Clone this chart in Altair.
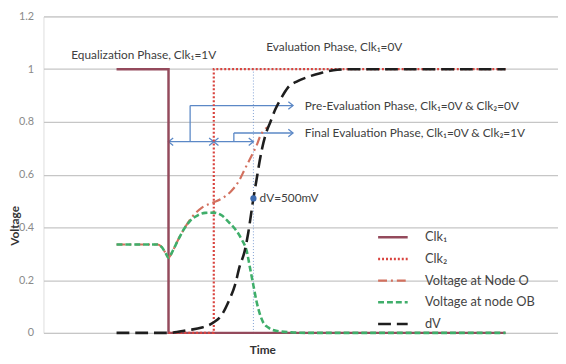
import altair as alt
import pandas as pd

# ---------------- data ----------------
series_names = ["Clk₁", "Clk₂", "Voltage at Node O", "Voltage at node OB", "dV"]
series_colors = ["#944A5C", "#D9443F", "#D2705E", "#3FAE6A", "#1E1E1E"]
series_dashes = [[1, 0], [2, 2], [9, 4, 2, 4], [6, 3], [13, 6]]

clk1_t = [1.42, 2.43, 2.43, 8.98]
clk1_v = [1, 1, 0, 0]

clk2_t = [2.43, 3.31, 3.31, 8.98]
clk2_v = [0, 0, 1, 1]

nodeo_t = [1.42, 2.22, 2.30, 2.38, 2.43, 2.51, 2.61, 2.72, 2.89, 3.08, 3.31, 3.47,
           3.66, 3.81, 3.91, 4.04, 4.14, 4.21, 4.29, 4.36]
nodeo_v = [0.335, 0.335, 0.325, 0.30, 0.285, 0.31, 0.35, 0.39, 0.44, 0.475, 0.495, 0.51,
           0.54, 0.58, 0.62, 0.67, 0.71, 0.745, 0.77, 0.78]

nodeob_t = [1.42, 2.22, 2.30, 2.38, 2.43, 2.51, 2.61, 2.72, 2.85, 2.99, 3.14, 3.31,
            3.47, 3.60, 3.72, 3.85, 3.95, 4.02, 4.08, 4.14, 4.20, 4.27, 4.37, 4.52,
            4.81, 5.10, 8.98]
nodeob_v = [0.335, 0.335, 0.325, 0.30, 0.285, 0.31, 0.35, 0.39, 0.425, 0.445, 0.455, 0.456,
            0.445, 0.42, 0.395, 0.355, 0.31, 0.24, 0.18, 0.12, 0.075, 0.04, 0.02, 0.008,
            0.002, 0.0, 0.0]

dv_t = [1.42, 2.43, 2.80, 3.08, 3.31, 3.47, 3.60, 3.72, 3.81, 3.91, 3.98, 4.08, 4.14,
        4.20, 4.25, 4.33, 4.41, 4.50, 4.62, 4.75, 4.94, 5.13, 5.38, 5.71, 6.05, 8.98]
dv_v = [0.0, 0.0, 0.01, 0.02, 0.04, 0.07, 0.12, 0.18, 0.25, 0.31, 0.38, 0.51, 0.58,
        0.65, 0.70, 0.76, 0.80, 0.845, 0.89, 0.93, 0.955, 0.97, 0.985, 0.998, 1.0, 1.0]

y_ticks = [0, 0.2, 0.4, 0.6, 0.8, 1.0, 1.2]

# annotation texts
note_text = ["Equalization Phase, Clk₁=1V", "Evaluation Phase, Clk₁=0V",
             "Pre-Evaluation Phase, Clk₁=0V & Clk₂=0V",
             "Final Evaluation Phase, Clk₁=0V & Clk₂=1V", "dV=500mV"]
note_t = [0.54, 4.33, 5.08, 5.08, 4.20]
note_v = [1.055, 1.085, 0.862, 0.758, 0.51]

# arrow / bracket segments
seg_t = [2.43, 3.31, 2.85, 2.85, 3.70, 3.70]
seg_t2 = [3.31, 4.08, 2.85, 4.85, 3.70, 4.85]
seg_v = [0.725, 0.725, 0.725, 0.862, 0.725, 0.758]
seg_v2 = [0.725, 0.725, 0.862, 0.862, 0.758, 0.758]

# arrow heads
head_t = [2.43, 3.31, 3.31, 4.08, 4.85, 4.85]
head_v = [0.725, 0.725, 0.725, 0.725, 0.862, 0.758]
head_dir = ["left", "right", "left", "right", "right", "right"]

# dV = 500 mV marker
marker_t = [4.08]
marker_v = [0.51]
marker_line_v = [0.0, 1.0]

# ---------------- build tables ----------------
series_t = [clk1_t, clk2_t, nodeo_t, nodeob_t, dv_t]
series_v = [clk1_v, clk2_v, nodeo_v, nodeob_v, dv_v]

FONT = "Lato, DejaVu Sans, sans-serif"

xscale = alt.Scale(domain=[0, 10], nice=False, zero=False)
yscale = alt.Scale(domain=[0, 1.2], nice=False)

xaxis = alt.Axis(labels=False, ticks=False, domain=False, grid=False, title="Time",
                 titleX=222, titleY=17, titleBaseline="middle", titleFont=FONT,
                 titleFontSize=12, titleFontWeight="bold", titleColor="#333333")
yaxis = alt.Axis(values=y_ticks, format="~g", grid=True, gridColor="#C6C6C6",
                 gridWidth=1.2, domain=False, ticks=False, labelPadding=10,
                 labelColor="#8A8A8A", labelFont=FONT, labelFontSize=11,
                 title="Voltage", titleX=-29, titleY=212, titleAlign="center",
                 titleBaseline="middle", titleFont=FONT, titleFontSize=12,
                 titleFontWeight="bold", titleColor="#333333")

legend = alt.Legend(title=None, orient="none", legendX=338, legendY=216,
                    symbolType="stroke", symbolSize=900, symbolStrokeWidth=2.5,
                    labelFont=FONT, labelFontSize=13, labelColor="#444444",
                    labelOffset=16, clipHeight=16, rowPadding=6)

color_scale = alt.Scale(domain=series_names, range=series_colors)
dash_scale = alt.Scale(domain=series_names, range=series_dashes)

widths = [2.5, 2.2, 2.2, 2.6, 2.6]
interps = ["linear", "linear", "monotone", "monotone", "monotone"]

layers = []
for name, ts, vs, w, ip in zip(series_names, series_t, series_v, widths, interps):
    df = pd.DataFrame({"t": ts, "v": vs, "series": name, "i": range(len(ts))})
    layers.append(
        alt.Chart(df).mark_line(strokeWidth=w, interpolate=ip).encode(
            x=alt.X("t:Q", scale=xscale, axis=xaxis),
            y=alt.Y("v:Q", scale=yscale, axis=yaxis),
            color=alt.Color("series:N", scale=color_scale, legend=legend),
            strokeDash=alt.StrokeDash("series:N", scale=dash_scale, legend=legend),
            order="i:Q",
        )
    )

BLUE = "#5B88C6"

marker_line = alt.Chart(pd.DataFrame({"t": marker_t * 2, "v": marker_line_v})).mark_line(
    color="#7F9FD3", strokeWidth=1, strokeDash=[1, 2]
).encode(x=alt.X("t:Q", scale=xscale), y=alt.Y("v:Q", scale=yscale))

segs = alt.Chart(pd.DataFrame({"t": seg_t, "t2": seg_t2, "v": seg_v, "v2": seg_v2})).mark_rule(
    color=BLUE, strokeWidth=1.3
).encode(x=alt.X("t:Q", scale=xscale), x2="t2:Q",
         y=alt.Y("v:Q", scale=yscale), y2="v2:Q")

heads_df = pd.DataFrame({"t": head_t, "v": head_v, "dir": head_dir})
head_right = alt.Chart(heads_df).transform_filter(alt.datum.dir == "right").mark_point(
    shape="M -1 -0.8 L 0 0 L -1 0.8", filled=False, color=BLUE, strokeWidth=1.3,
    size=90, opacity=1
).encode(x=alt.X("t:Q", scale=xscale), y=alt.Y("v:Q", scale=yscale))
head_left = alt.Chart(heads_df).transform_filter(alt.datum.dir == "left").mark_point(
    shape="M 1 -0.8 L 0 0 L 1 0.8", filled=False, color=BLUE, strokeWidth=1.3,
    size=90, opacity=1
).encode(x=alt.X("t:Q", scale=xscale), y=alt.Y("v:Q", scale=yscale))

marker = alt.Chart(pd.DataFrame({"t": marker_t, "v": marker_v})).mark_point(
    filled=True, color="#3D6BB0", size=40, opacity=1
).encode(x=alt.X("t:Q", scale=xscale), y=alt.Y("v:Q", scale=yscale))

notes = alt.Chart(pd.DataFrame({"t": note_t, "v": note_v, "text": note_text})).mark_text(
    align="left", baseline="middle", font=FONT, fontSize=12, color="#404040"
).encode(x=alt.X("t:Q", scale=xscale), y=alt.Y("v:Q", scale=yscale), text="text:N")

chart = alt.layer(
    marker_line, segs, head_right, head_left, *layers, marker, notes
).properties(
    width=522, height=321,
    autosize=alt.AutoSizeParams(type="none"),
    padding={"left": 36, "top": 6, "right": 0, "bottom": 29},
).configure_view(stroke=None).configure(background="white")

chart.save("out.html", embed_options={"renderer": "svg", "actions": False})
